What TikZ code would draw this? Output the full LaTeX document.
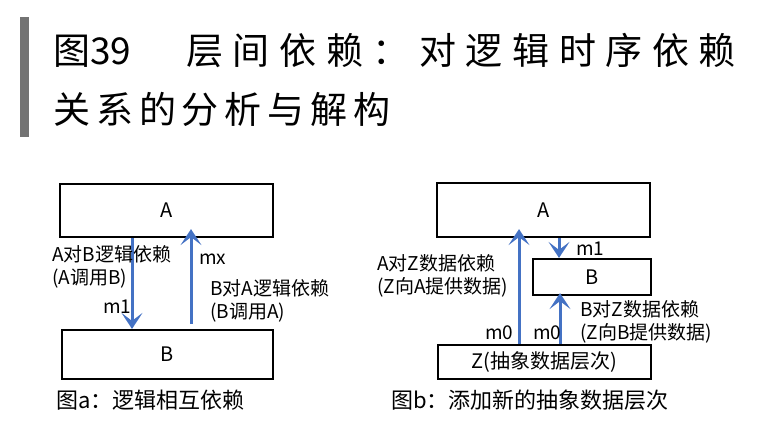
\documentclass[tikz,border=0pt]{standalone}
\usepackage{fontspec}
\usepackage{tikz}
\usepackage{xcolor}
\usetikzlibrary{arrows.meta, positioning}
\setmainfont{Noto Sans CJK SC}
\newfontfamily\titleA[LetterSpace=26]{Noto Sans CJK SC}
\newfontfamily\titleB[LetterSpace=16]{Noto Sans CJK SC}
\definecolor{Azul}{RGB}{68,114,196}
\definecolor{Barra}{RGB}{115,115,115}

\begin{document}
\begin{tikzpicture}[
  x=1pt, y=-1pt,
  caja/.style={
    draw=black, line width=2.2pt,
    inner sep=0pt, font=\fontsize{20}{24}\selectfont
  },
  etiq/.style={
    inner sep=0pt, align=left, anchor=west,
    font=\fontsize{19}{23}\selectfont
  },
  pie/.style={inner sep=0pt, anchor=west, font=\fontsize{22}{26}\selectfont},
  arr/.style={-{Stealth[length=16pt, width=21pt, inset=8pt]}, Azul, line width=3pt}
]
\useasboundingbox (0,0) rectangle (762,424);

% titulo
\fill[Barra] (20,17) rectangle (29,137);
\node[anchor=west, inner sep=0pt, font=\fontsize{37}{44}\selectfont] (tnum) at (53,51) {图39};
\node[anchor=west, inner sep=0pt, font=\titleA\fontsize{37}{44}\selectfont] (tuno) at (186,51)
  {层间依赖：对逻辑时序依赖};
\node[anchor=west, inner sep=0pt, font=\titleB\fontsize{37}{44}\selectfont] (tdos) at (53,109)
  {关系的分析与解构};

% figura a
\node[caja, minimum width=213pt, minimum height=53pt] (aA) at (166.5,210.5) {A};
\node[caja, minimum width=211pt, minimum height=49pt] (aB) at (167.5,354.5) {B};

\draw[arr] ([xshift=-34.5pt]aA.south) -- ([xshift=-34.5pt]aA.south |- aB.north);
\draw[arr, shorten <=5pt, shorten >=-9pt] ([xshift=23.5pt]aB.north) -- ([xshift=23.5pt]aB.north |- aA.south);

\node[etiq] (aAB) at (52,266.5) {A对B逻辑依赖\\(A调用B)};
\node[etiq] (am1) at (103,307) {m1};
\node[etiq] (amx) at (199,259) {mx};
\node[etiq] (aBA) at (210,300.5) {B对A逻辑依赖\\(B调用A)};
\node[pie] (pieA) at (56,400) {图a：逻辑相互依赖};

% figura b
\node[caja, minimum width=213pt, minimum height=54pt] (bA) at (543.5,210) {A};
\node[caja, minimum width=118pt, minimum height=36pt] (bB) at (592,277) {B};
\node[caja, minimum width=213pt, minimum height=34pt] (bZ) at (544.5,362) {Z(抽象数据层次)};

\draw[arr] ([xshift=15.5pt]bA.south) -- ([xshift=15.5pt]bA.south |- bB.north);
\draw[arr, shorten >=-9pt] ([xshift=-25.5pt]bZ.north) -- ([xshift=-25.5pt]bZ.north |- bA.south);
\draw[arr, shorten >=-3pt] ([xshift=15.5pt]bZ.north) -- ([xshift=15.5pt]bZ.north |- bB.south);

\node[etiq] (bm1) at (576,249) {m1};
\node[etiq] (bAZ) at (377,276) {A对Z数据依赖\\(Z向A提供数据)};
\node[etiq] (bm0a) at (485,333) {m0};
\node[etiq] (bm0b) at (533,333) {m0};
\node[etiq] (bBZ) at (580,321.5) {B对Z数据依赖\\(Z向B提供数据)};
\node[pie] (pieB) at (391,400) {图b：添加新的抽象数据层次};

\end{tikzpicture}
\end{document}
